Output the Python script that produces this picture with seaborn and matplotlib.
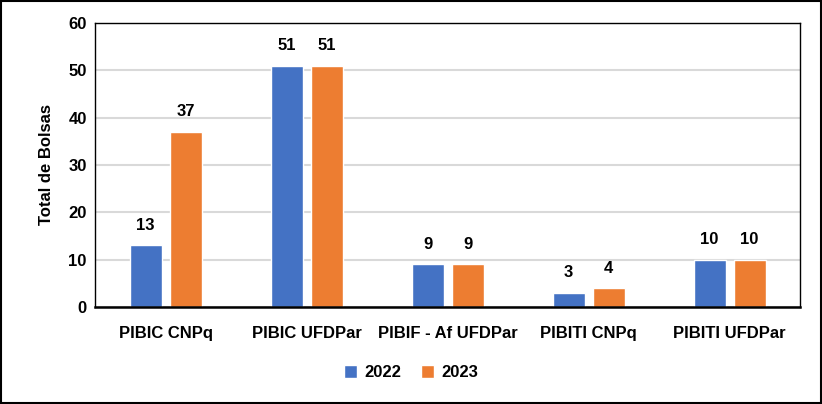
import matplotlib
matplotlib.use("Agg")
import matplotlib.pyplot as plt
import seaborn as sns
import pandas as pd
from matplotlib.patches import Rectangle

categories = ["PIBIC CNPq", "PIBIC UFDPar", "PIBIF - Af UFDPar", "PIBITI CNPq", "PIBITI UFDPar"]
years = ["2022", "2023"]
values_2022 = [13, 51, 9, 3, 10]
values_2023 = [37, 51, 9, 4, 10]
colors = ["#4472C4", "#ED7D31"]

df = pd.DataFrame({
    "cat": categories * 2,
    "year": [years[0]] * len(categories) + [years[1]] * len(categories),
    "val": values_2022 + values_2023,
})

sns.set_theme(style="white")
plt.rcParams["font.family"] = ["Liberation Sans", "DejaVu Sans"]
plt.rcParams["font.weight"] = "bold"
plt.rcParams["text.color"] = "black"
plt.rcParams["xtick.color"] = "black"
plt.rcParams["ytick.color"] = "black"
plt.rcParams["axes.labelcolor"] = "black"

fig = plt.figure(figsize=(8.22, 4.04), dpi=100)
ax = fig.add_axes([0.1156, 0.2401, 0.8577, 0.7030])

sns.barplot(data=df, x="cat", y="val", hue="year", palette=colors, saturation=1,
            width=0.567, gap=0.2, ax=ax, legend=True)

ax.set_ylim(0, 60)
ax.set_yticks(range(0, 61, 10))
ax.yaxis.grid(True, color="#D9D9D9", linewidth=1.5)
ax.set_axisbelow(True)
for s in ax.spines.values():
    s.set_color("black")
    s.set_linewidth(1.0)
ax.spines["bottom"].set_linewidth(1.8)
ax.tick_params(axis="both", length=0, labelsize=12, pad=6)
ax.tick_params(axis="x", pad=14)
for lab in ax.get_xticklabels() + ax.get_yticklabels():
    lab.set_fontweight("bold")
ax.set_xlabel("")
ax.set_ylabel("Total de Bolsas", fontsize=12, fontweight="bold", labelpad=10)

for cont in ax.containers:
    ax.bar_label(cont, padding=9, fontsize=12, fontweight="bold", color="black")

h, l = ax.get_legend_handles_labels()
ax.legend_.remove()
fig.legend(h, l, loc="center", bbox_to_anchor=(0.5, 0.078), ncol=2, frameon=False,
           prop={"size": 12, "weight": "bold"}, handlelength=0.8, handleheight=0.8,
           handletextpad=0.4, columnspacing=1.2)

fig.patches.append(Rectangle((0.0015, 0.003), 0.997, 0.994, transform=fig.transFigure,
                             fill=False, edgecolor="black", linewidth=1.5))

fig.savefig("out.png", dpi=100)
